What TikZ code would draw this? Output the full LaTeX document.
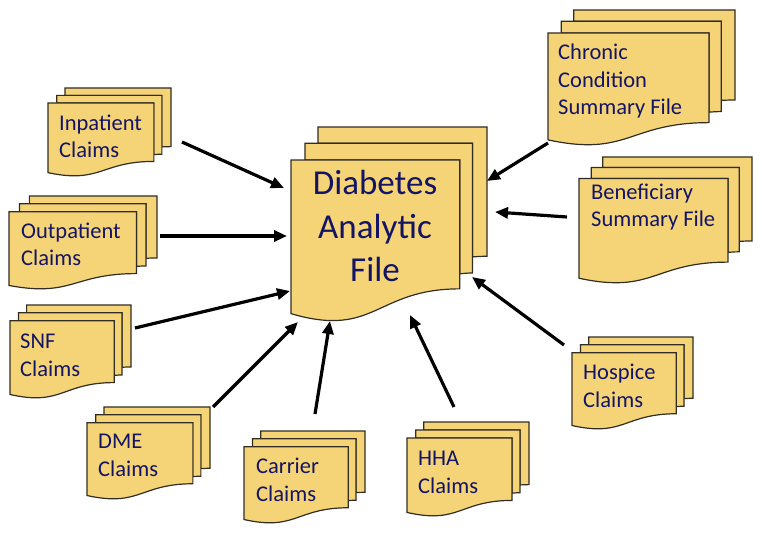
\documentclass[tikz,border=0pt]{standalone}
\usepackage{fontspec}
\setmainfont{Carlito}
\usetikzlibrary{arrows.meta}
\definecolor{docfill}{RGB}{245,212,120}
\definecolor{docline}{RGB}{50,45,35}
\definecolor{txtblue}{RGB}{20,20,100}
\newcommand{\mdoc}[4]{%
 \pgfmathsetmacro{\mdW}{(#3-#1)/216}%
 \pgfmathsetmacro{\mdH}{(#4-#2)/216}%
 \begin{scope}[shift={(#1,#2)},xscale=\mdW,yscale=\mdH]
  \draw[docpage] (29.72,18.15) -- (29.72,0) -- (216,0) -- (216,143.92)
     .. controls (208,143.92) and (200,144.67) .. (200,144.67) -- (200,18.15) -- cycle;
  \draw[docpage] (15.32,36.75) -- (15.32,18.15) -- (200,18.15) -- (200,162.52)
     .. controls (192.98,162.52) and (185.95,163.52) .. (185.95,163.52) -- (185.95,36.75) -- cycle;
  \draw[docpage] (0,207.82) .. controls (92.98,235.42) and (92.98,180.22) .. (185.95,180.22)
     -- (185.95,36.75) -- (0,36.75) -- cycle;
 \end{scope}}
\begin{document}
\begin{tikzpicture}[x=1pt,y=-1pt,
  docpage/.style={fill=docfill,draw=docline,line width=1.2pt,line join=miter},
  doctext/.style={anchor=base west,align=left,inner sep=0pt,text=txtblue,
    font=\fontsize{22.5}{27.5}\selectfont},
  maintext/.style={anchor=base,align=center,inner sep=0pt,text=txtblue,
    font=\fontsize{35}{43.5}\selectfont},
  arr/.style={draw=black,line width=3.2pt,-{Triangle[length=13pt,width=11pt]}}]
\useasboundingbox (0,0) rectangle (762,534);
% documents
\mdoc{291}{127}{487}{321}
\mdoc{48}{88}{171}{176}
\mdoc{9}{196}{157}{289}
\mdoc{10}{305}{131}{398}
\mdoc{87}{407}{210}{499}
\mdoc{244}{431}{365}{523}
\mdoc{407}{422}{529}{516}
\mdoc{572}{337}{693}{429}
\mdoc{579}{157}{752}{283}
\mdoc{548}{10}{735}{145}
% texts (anchor = baseline of the last line)
\node[maintext] (daf) at (375,282) {Diabetes\\Analytic\\File};
\node[doctext] (inp) at (59,158) {Inpatient\\Claims};
\node[doctext] (outp) at (21,266) {Outpatient\\Claims};
\node[doctext] (snf) at (20,376) {SNF\\Claims};
\node[doctext] (dme) at (98,476) {DME\\Claims};
\node[doctext] (car) at (256,501) {Carrier\\Claims};
\node[doctext] (hha) at (418,493) {HHA\\Claims};
\node[doctext] (hos) at (583,407) {Hospice\\Claims};
\node[doctext] (ben) at (591,227) {Beneficiary\\Summary File};
\node[doctext] (chr) at (558,115) {Chronic\\Condition\\Summary File};
% connector end points
\coordinate (inp-o) at (182,142);  \coordinate (daf-i1) at (284,188);
\coordinate (outp-o) at (160,236); \coordinate (daf-i2) at (287,236);
\coordinate (snf-o) at (135,328);  \coordinate (daf-i3) at (290,291);
\coordinate (dme-o) at (213,407);  \coordinate (daf-i4) at (298,322);
\coordinate (car-o) at (315,414);  \coordinate (daf-i5) at (330,321);
\coordinate (hha-o) at (454,407);  \coordinate (daf-i6) at (410,315);
\coordinate (hos-o) at (564,345);  \coordinate (daf-i7) at (472,277);
\coordinate (ben-o) at (567,217);  \coordinate (daf-i8) at (495,212);
\coordinate (chr-o) at (548,143);  \coordinate (daf-i9) at (487,181);
\draw[arr] (inp-o) -- (daf-i1);
\draw[arr] (outp-o) -- (daf-i2);
\draw[arr] (snf-o) -- (daf-i3);
\draw[arr] (dme-o) -- (daf-i4);
\draw[arr] (car-o) -- (daf-i5);
\draw[arr] (hha-o) -- (daf-i6);
\draw[arr] (hos-o) -- (daf-i7);
\draw[arr] (ben-o) -- (daf-i8);
\draw[arr] (chr-o) -- (daf-i9);
\end{tikzpicture}
\end{document}
